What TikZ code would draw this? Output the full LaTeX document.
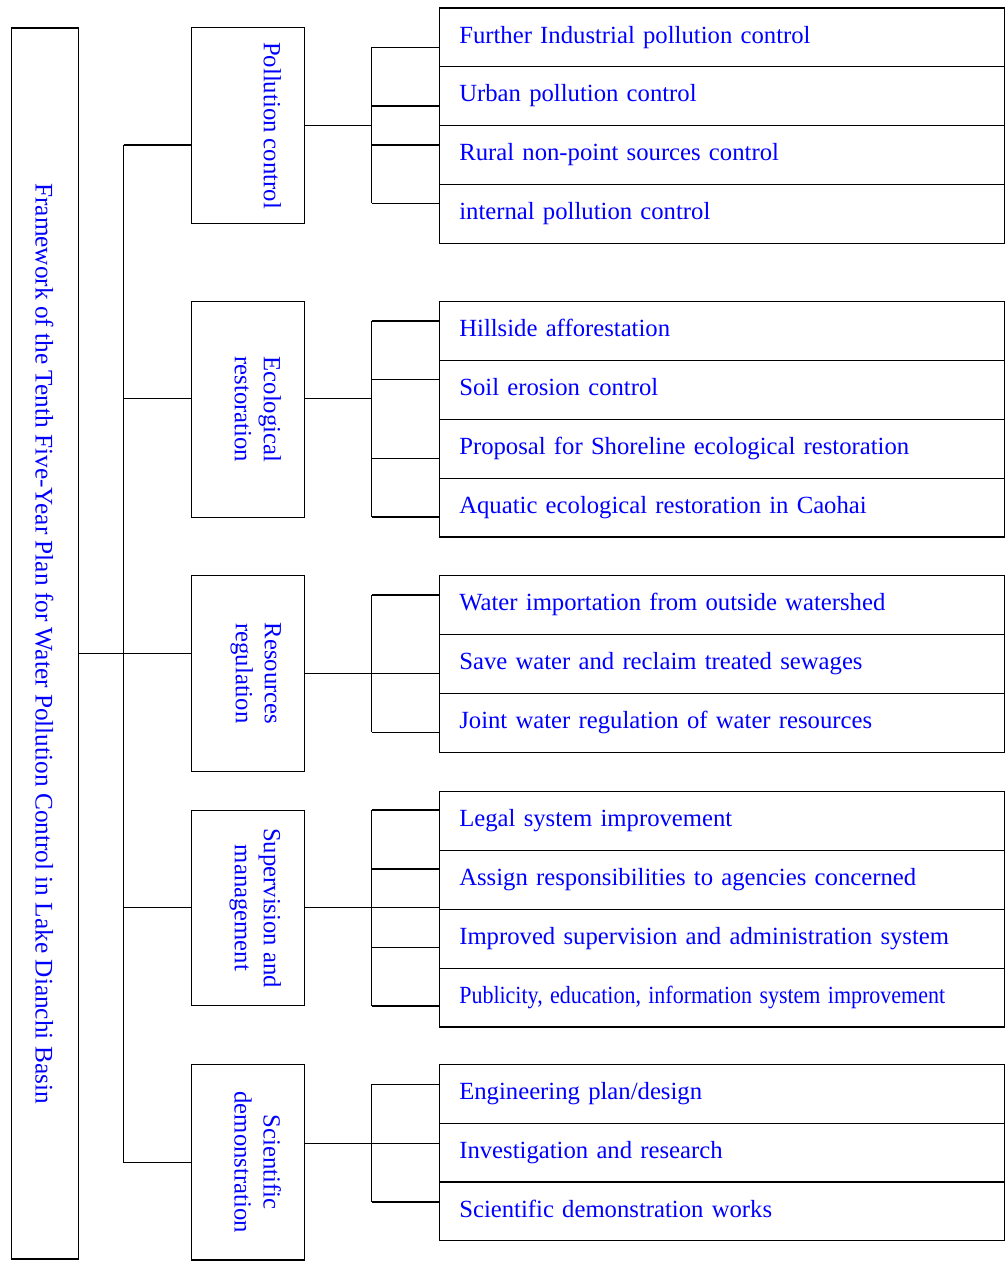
\documentclass[tikz,border=0pt]{standalone}
\usepackage{fontspec}
\setmainfont{Liberation Serif}
\usetikzlibrary{positioning,calc}
\newcommand{\planfont}{\fontsize{24.7}{29}\selectfont}
\newcommand{\titlefont}{\fontsize{25.3}{29}\selectfont}
\tikzset{
  fw/box/.style={draw, line width=1.2pt, inner sep=0pt, outer sep=0pt},
  fw/plan/.style={fw/box, minimum width=67pt, minimum height=1231pt},
  fw/area/.style={fw/box, minimum width=113pt, minimum height=195.5pt},
  fw/task/.style={fw/box, minimum width=565pt, minimum height=58.8pt, text width=525pt, inner xsep=20pt,
    align=left, text height=17pt, text depth=5.5pt, font=\planfont, text=blue},
  fw/vtext/.style={rotate=-90, anchor=north, align=center, inner sep=0pt, font=\planfont, text=blue},
  fw/line/.style={line width=1.2pt}
}

\begin{document}
\begin{tikzpicture}[x=1pt, y=-1pt]
  \useasboundingbox (0,0) rectangle (1008,1261);

  % plan
  \node[fw/plan] (plan) at (44.7,643.5) {};
  \node[fw/vtext, anchor=base, font=\titlefont] (planText) at (35.5,643.5)
    {Framework of the Tenth Five-Year Plan for Water Pollution Control in Lake Dianchi Basin};

  % fields of action
  \node[fw/area] (pol) at (247.7,125.5) {};
  \node[fw/area, minimum height=215.6pt] (eco) at (247.7,409.5) {};
  \node[fw/area] (res) at (247.7,673.4) {};
  \node[fw/area] (sup) at (247.7,908) {};
  \node[fw/area] (sci) at (247.7,1162.2) {};
  \node[fw/vtext] (polText) at ([xshift=-23pt]pol.east) {Pollution control};
  \node[fw/vtext] (ecoText) at ([xshift=-23pt]eco.east) {Ecological\\restoration};
  \node[fw/vtext] (resText) at ([xshift=-23pt]res.east) {Resources\\regulation};
  \node[fw/vtext] (supText) at ([xshift=-23pt]sup.east) {Supervision and\\management};
  \node[fw/vtext] (sciText) at ([xshift=-23pt]sci.east) {Scientific\\demonstration};

  % measures
  \node[fw/task] (pol1) at (721.8,37.4) {Further Industrial pollution control};
  \node[fw/task, below=0pt of pol1] (pol2) {Urban pollution control};
  \node[fw/task, below=0pt of pol2] (pol3) {Rural non-point sources control};
  \node[fw/task, below=0pt of pol3] (pol4) {internal pollution control};

  \node[fw/task] (eco1) at (721.8,331.1) {Hillside afforestation};
  \node[fw/task, below=0pt of eco1] (eco2) {Soil erosion control};
  \node[fw/task, below=0pt of eco2] (eco3) {Proposal for Shoreline ecological restoration};
  \node[fw/task, below=0pt of eco3] (eco4) {Aquatic ecological restoration in Caohai};

  \node[fw/task] (res1) at (721.8,605.1) {Water importation from outside watershed};
  \node[fw/task, below=0pt of res1] (res2) {Save water and reclaim treated sewages};
  \node[fw/task, below=0pt of res2] (res3) {Joint water regulation of water resources};

  \node[fw/task] (sup1) at (721.8,821.1) {Legal system improvement};
  \node[fw/task, below=0pt of sup1] (sup2) {Assign responsibilities to agencies concerned};
  \node[fw/task, below=0pt of sup2] (sup3) {Improved supervision and administration system};
  \node[fw/task, below=0pt of sup3] (sup4) {\scalebox{0.89}[1]{Publicity, education, information system improvement}};

  \node[fw/task] (sci1) at (721.8,1093.7) {Engineering plan/design};
  \node[fw/task, below=0pt of sci1] (sci2) {Investigation and research};
  \node[fw/task, below=0pt of sci2] (sci3) {Scientific demonstration works};

  % trunk
  \coordinate (trunk1) at (123.5,145);
  \coordinate (trunk2) at (123.5,398.7);
  \coordinate (trunk3) at (123.5,653.3);
  \coordinate (trunk4) at (123.5,907.7);
  \coordinate (trunk5) at (123.5,1162.7);
  \draw[fw/line] (trunk1) -- (trunk5);
  \draw[fw/line] (plan.east |- trunk3) -- (res.west |- trunk3);
  \foreach \t/\n in {trunk1/pol, trunk2/eco, trunk4/sup, trunk5/sci}
    \draw[fw/line] (\t) -- (\n.west |- \t);

  % buses
  \coordinate (polMid) at (371.7,125.7);
  \coordinate (ecoMid) at (371.7,398.7);
  \coordinate (resMid) at (371.7,673.3);
  \coordinate (supMid) at (371.7,907.7);
  \coordinate (sciMid) at (371.7,1143.3);
  \draw[fw/line] (pol.east |- polMid) -- (polMid);
  \draw[fw/line] (eco.east |- ecoMid) -- (ecoMid);
  \draw[fw/line] (res.east |- resMid) -- (res2.west |- resMid);
  \draw[fw/line] (sup.east |- supMid) -- (sup2.west |- supMid);
  \draw[fw/line] (sci.east |- sciMid) -- (sci2.west |- sciMid);

  \foreach \n/\y in {pol1/47.3, pol2/106, pol3/145, pol4/203.3,
                     eco1/321, eco2/379.7, eco3/458.3, eco4/517,
                     res1/595, res3/732.3,
                     sup1/810, sup2/869, sup3/947.3, sup4/1006,
                     sci1/1084.3, sci3/1202}{
    \coordinate (\n Bus) at (371.7,\y);
    \draw[fw/line] (\n Bus) -- (\n.west |- \n Bus);
  }
  \draw[fw/line] (pol1Bus) -- (pol4Bus);
  \draw[fw/line] (eco1Bus) -- (eco4Bus);
  \draw[fw/line] (res1Bus) -- (res3Bus);
  \draw[fw/line] (sup1Bus) -- (sup4Bus);
  \draw[fw/line] (sci1Bus) -- (sci3Bus);
\end{tikzpicture}
\end{document}
